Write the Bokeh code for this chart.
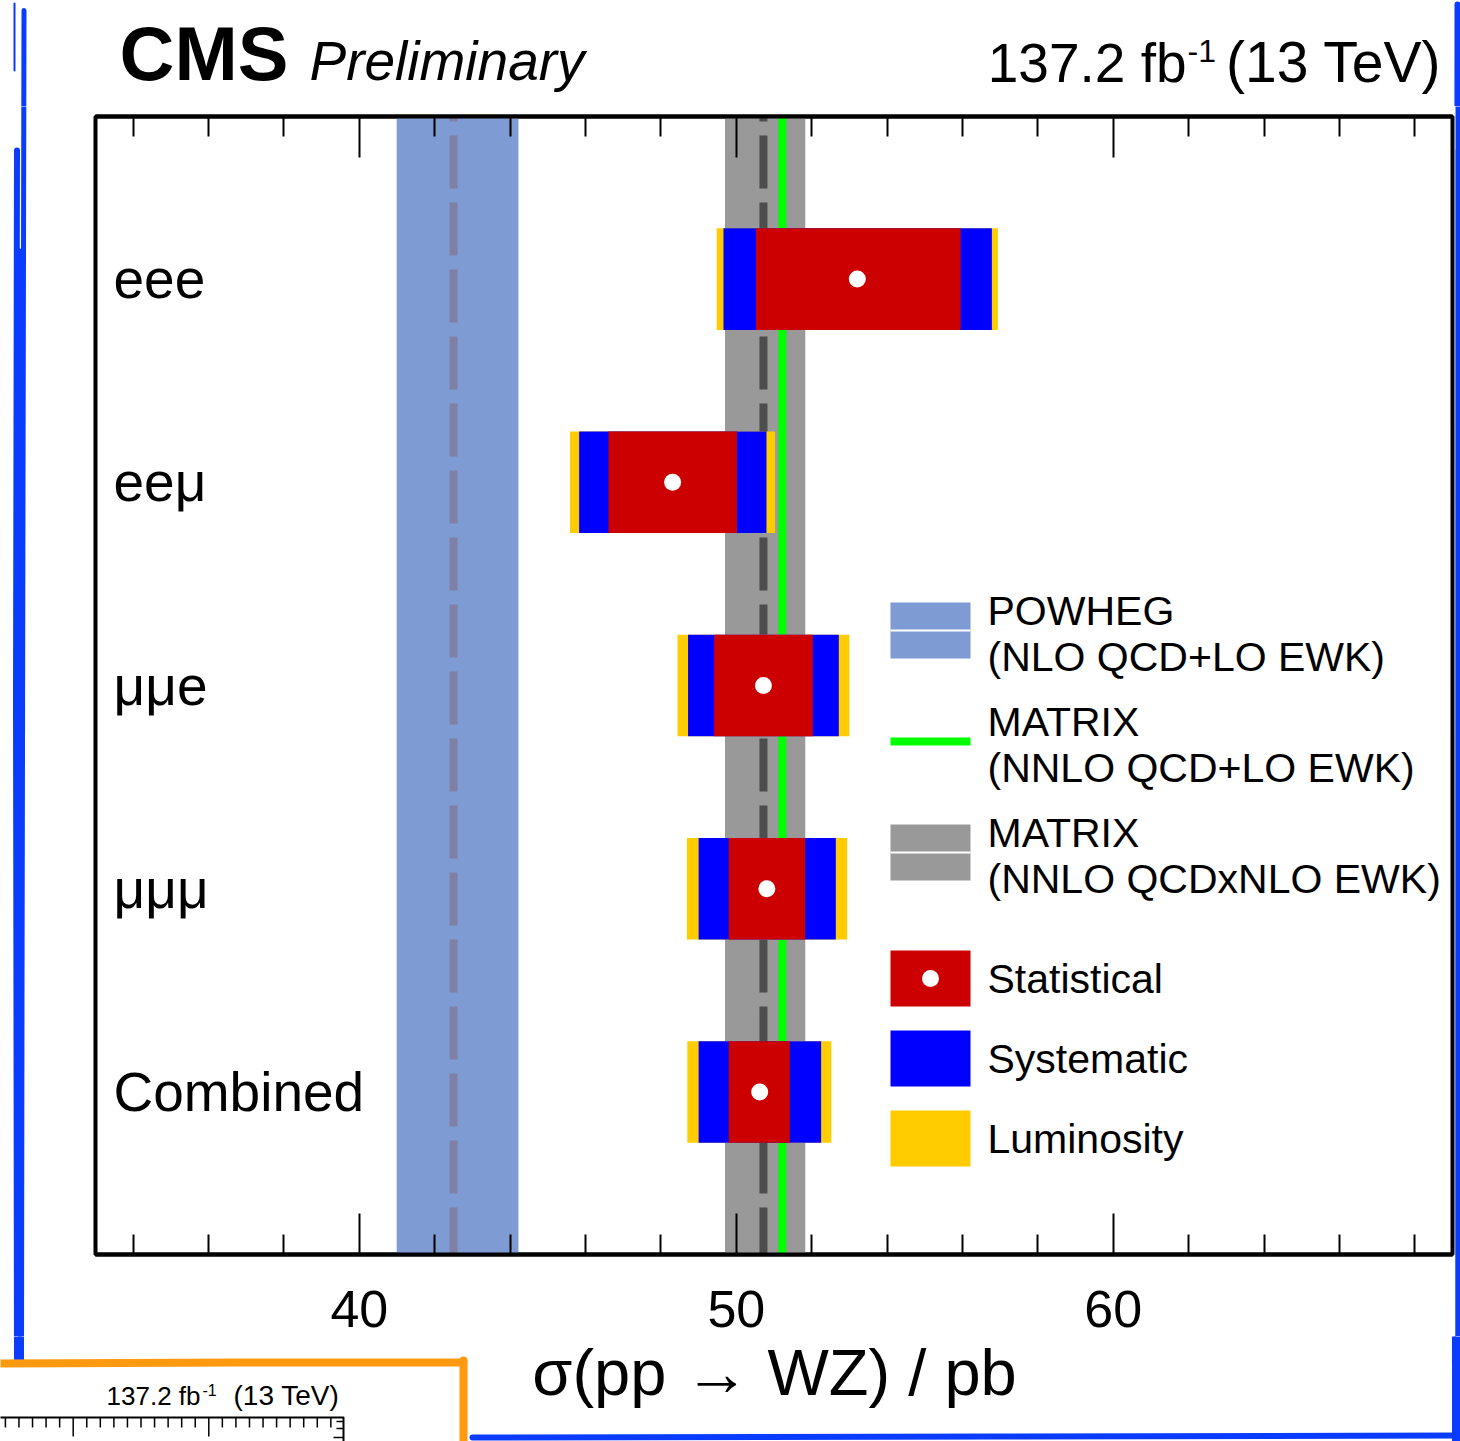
from bokeh.plotting import figure
from bokeh.layouts import column, row
from bokeh.models import (FixedTicker, LinearAxis, BoxAnnotation, Span,
                          ColumnDataSource, Range1d)
from bokeh.core.properties import value
from bokeh.embed import file_html
from bokeh.resources import INLINE

# ---------------- data ----------------
channels = ["eee", "eeμ", "μμe", "μμμ", "Combined"]
central = [53.21, 48.31, 50.72, 50.81, 50.62]
stat_lo = [50.52, 46.61, 49.41, 49.80, 49.80]
stat_hi = [55.95, 50.02, 52.03, 51.83, 51.42]
syst_lo = [49.66, 45.83, 48.72, 49.00, 49.00]
syst_hi = [56.78, 50.80, 52.72, 52.64, 52.25]
lumi_lo = [49.48, 45.59, 48.44, 48.69, 48.70]
lumi_hi = [56.94, 51.03, 53.00, 52.94, 52.52]

powheg_central = 42.50
powheg_band = [40.99, 44.22]
matrix_nnlo_central = 50.72
matrix_nnlo_band = [49.70, 51.83]
matrix_lo_ewk = 51.22

major_ticks = [40, 50, 60]
minor_ticks = [34, 36, 38, 42, 44, 46, 48, 52, 54, 56, 58, 62, 64, 66, 68]

legend_labels = [["POWHEG", "(NLO QCD+LO EWK)"],
                 ["MATRIX", "(NNLO QCD+LO EWK)"],
                 ["MATRIX", "(NNLO QCDxNLO EWK)"],
                 ["Statistical"], ["Systematic"], ["Luminosity"]]

x_title = "σ(pp → WZ) / pb"

# ---------------- layout constants (pixels) ----------------
W, H = 1460, 1441
FL, FR, FT, FB = 95, 1452, 116, 1254      # main frame
HDR = 106                                  # header strip height
LEFTW = 92                                 # left strip width
RIGHTX = 1455                              # right strip start
BOT = 1336                                 # bottom strip start
X0, X1 = 33.0, 69.0
Y0, Y1 = 0.2, 5.8
SHIFT = 0.37                               # baseline correction factor (em)

def cx(X):
    return X0 + (X - FL) * (X1 - X0) / (FR - FL)

def cy(Y):
    return Y0 + (FB - Y) * (Y1 - Y0) / (FB - FT)

FONT = "Liberation Sans"
RED, BLUE, YELLOW = "#cc0000", "#0000ff", "#ffcc00"
PBLUE, GRAY = "#7e9bd3", "#999999"
BL = "#0a3cff"
OR = "#ff9a10"

# ---------------- main figure ----------------
p = figure(width=RIGHTX - LEFTW, height=BOT - HDR, x_range=Range1d(X0, X1), y_range=Range1d(Y0, Y1),
           output_backend="svg", toolbar_location=None,
           x_axis_location=None, y_axis_location=None, frame_align=False,
           min_border_left=FL - LEFTW, min_border_right=RIGHTX - FR,
           min_border_top=FT - HDR, min_border_bottom=BOT - FB)
p.xgrid.visible = False
p.ygrid.visible = False
p.outline_line_color = "black"
p.outline_line_width = 4
p.background_fill_color = "white"
p.border_fill_color = "white"

def make_axis(labels):
    ax = LinearAxis(ticker=FixedTicker(ticks=major_ticks, minor_ticks=minor_ticks))
    ax.major_tick_in = 41
    ax.major_tick_out = 0
    ax.minor_tick_in = 20
    ax.minor_tick_out = 0
    ax.major_tick_line_width = 2
    ax.minor_tick_line_width = 2
    ax.axis_line_width = 4
    ax.major_label_text_font = FONT
    ax.major_label_text_color = "black"
    if labels:
        ax.major_label_text_font_size = "52px"
        ax.major_label_standoff = 36
    else:
        ax.major_label_text_font_size = "0px"
        ax.major_label_text_alpha = 0
        ax.major_label_standoff = 0
    return ax

p.add_layout(make_axis(True), "below")
p.add_layout(make_axis(False), "above")

# theory bands
p.add_layout(BoxAnnotation(left=powheg_band[0], right=powheg_band[1], fill_color=PBLUE,
                           fill_alpha=1, line_alpha=0, level="underlay"))
p.add_layout(Span(location=powheg_central, dimension="height", line_color="#8080a6",
                  line_width=8, line_dash="53 14", line_dash_offset=48, level="underlay"))
p.add_layout(BoxAnnotation(left=matrix_nnlo_band[0], right=matrix_nnlo_band[1], fill_color=GRAY,
                           fill_alpha=1, line_alpha=0, level="underlay"))
p.add_layout(Span(location=matrix_nnlo_central, dimension="height", line_color="#4d4d4d",
                  line_width=8, line_dash="53 14", line_dash_offset=48, level="underlay"))
p.add_layout(Span(location=matrix_lo_ewk, dimension="height", line_color="#00ff00",
                  line_width=8, level="underlay"))

# measurements
ypos = list(range(len(channels), 0, -1))
half = 0.25
src = ColumnDataSource(dict(
    y=ypos, top=[v + half for v in ypos], bottom=[v - half for v in ypos],
    c=central, slo=stat_lo, shi=stat_hi, ylo=syst_lo, yhi=syst_hi, llo=lumi_lo, lhi=lumi_hi,
    name=channels))
p.quad(left="llo", right="lhi", top="top", bottom="bottom", source=src,
       fill_color=YELLOW, line_color=None)
p.quad(left="ylo", right="yhi", top="top", bottom="bottom", source=src,
       fill_color=BLUE, line_color=None)
p.quad(left="slo", right="shi", top="top", bottom="bottom", source=src,
       fill_color=RED, line_color=None)
p.scatter(x="c", y="y", source=src, size=17, fill_color="white", line_color=None)

p.text(x=cx(113), y="y", text="name", source=src, text_font=value(FONT),
       text_font_size="55px", text_baseline="alphabetic", y_offset=0, text_color="black")

# legend (drawn)
lx0, lx1 = cx(890), cx(970)
leg_y = [cy(630), cy(741), cy(852), cy(978), cy(1058), cy(1138)]
lh = (cy(602) - cy(658)) / 2
p.quad(left=[lx0], right=[lx1], top=[leg_y[0] + lh], bottom=[leg_y[0] - lh],
       fill_color=PBLUE, line_color=None)
p.segment(x0=[lx0], x1=[lx1], y0=[leg_y[0]], y1=[leg_y[0]], line_color="white", line_width=2)
p.segment(x0=[lx0], x1=[lx1], y0=[leg_y[1]], y1=[leg_y[1]], line_color="#00ff00", line_width=8)
p.quad(left=[lx0], right=[lx1], top=[leg_y[2] + lh], bottom=[leg_y[2] - lh],
       fill_color=GRAY, line_color=None)
p.segment(x0=[lx0], x1=[lx1], y0=[leg_y[2]], y1=[leg_y[2]], line_color="white", line_width=2)
for yy, col in zip(leg_y[3:], [RED, BLUE, YELLOW]):
    p.quad(left=[lx0], right=[lx1], top=[yy + lh], bottom=[yy - lh], fill_color=col, line_color=None)
p.scatter(x=[cx(930)], y=[leg_y[3]], size=17, fill_color="white", line_color=None)

tx = cx(987)
for yy, lines in zip(leg_y, legend_labels):
    offs = [-20, 26] if len(lines) == 2 else [0]
    for ln, off in zip(lines, offs):
        p.text(x=[tx], y=[yy], text=[ln], text_font=value(FONT), text_font_size="41px",
               text_baseline="alphabetic", y_offset=off, text_color="black")

# ---------------- decoration strips (pixel coordinates) ----------------
def strip(x0, x1, y0, y1):
    f = figure(width=x1 - x0, height=y1 - y0, x_range=Range1d(x0, x1), y_range=Range1d(y1, y0),
               output_backend="svg", toolbar_location=None, min_border=0, frame_align=False,
               x_axis_location=None, y_axis_location=None)
    f.xgrid.visible = False
    f.ygrid.visible = False
    f.outline_line_color = None
    f.background_fill_color = "white"
    f.border_fill_color = "white"
    return f

def stroke(f, pts, color, width):
    f.line(x=[a for a, b in pts], y=[b for a, b in pts], line_color=color,
           line_width=width, line_cap="round", line_join="round")

def txt(f, X, Y, t, size, align="left", style="normal"):
    f.text(x=[X], y=[Y - SHIFT * size], text=[t], text_font=value(FONT),
           text_font_size=f"{size}px", text_align=align, text_baseline="alphabetic",
           text_font_style=style, text_color="black")

def blue_frame(f):
    stroke(f, [(23.5, 10), (22.5, 500), (21.5, 1000), (21, 1360)], BL, 5)
    stroke(f, [(16.5, 150), (15.5, 700), (16.5, 1360)], BL, 6)
    stroke(f, [(19.5, 250), (19, 900), (19.5, 1360)], BL, 4)
    stroke(f, [(14, 3), (14, 70)], BL, 2)
    stroke(f, [(1457, 4), (1456.5, 700), (1457, 1441)], BL, 6)
    stroke(f, [(1453, 150), (1453.5, 1441)], BL, 4)
    stroke(f, [(472, 1437), (1000, 1436), (1460, 1435)], BL, 6)

header = strip(0, W, 0, HDR)
left = strip(0, LEFTW, HDR, BOT)
right = strip(RIGHTX, W, HDR, BOT)
bottom = strip(0, W, BOT, H)
for f in (header, left, right, bottom):
    blue_frame(f)

# header texts
txt(header, 119, 81, "CMS", 76, style="bold")
txt(header, 309, 81, "Preliminary", 55, style="italic")
txt(header, 1186, 83, "137.2 fb", 55, align="right")
txt(header, 1187, 62, "-1", 32)
txt(header, 1441, 83, "(13 TeV)", 57, align="right")

# x-axis title
txt(bottom, 774, 1396, x_title, 65, align="center")

# orange box with fragment of another plot
stroke(bottom, [(0, 1363), (240, 1362), (463, 1362)], OR, 8)
stroke(bottom, [(463, 1360), (463, 1441)], OR, 8)
txt(bottom, 200, 1405, "137.2 fb", 26, align="right")
txt(bottom, 202, 1395, "-1", 16)
txt(bottom, 233, 1405, "(13 TeV)", 28, align="left")
stroke(bottom, [(0, 1417), (343, 1417), (343, 1441)], "black", 2)
tick_x = [4.9 + 13.56 * k for k in range(25)]
tick_len = [19 if k in (5, 15) else 10 for k in range(25)]
bottom.segment(x0=tick_x, x1=tick_x, y0=[1417] * 25, y1=[1417 + t for t in tick_len],
               line_color="black", line_width=1.5)
bottom.segment(x0=[333, 336, 336], x1=[343, 343, 343], y0=[1437, 1428, 1421],
               y1=[1437, 1428, 1421], line_color="black", line_width=1.5)

layout = column(header, row(left, p, right, spacing=0), bottom, spacing=0)
open("out.html", "w").write(file_html(layout, INLINE))
